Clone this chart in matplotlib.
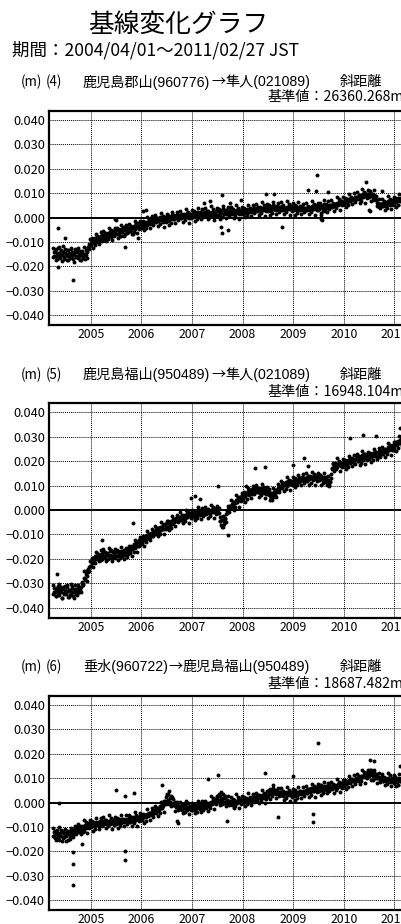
import matplotlib
matplotlib.use("Agg")
import matplotlib.pyplot as plt
import numpy as np
import pandas as pd

plt.rcParams['font.family'] = ['Noto Sans CJK JP', 'DejaVu Sans']
LATIN_CJK = ['Liberation Sans', 'Noto Sans CJK JP']

# ---------------- data ----------------
title = "基線変化グラフ"
period = "期間：2004/04/01～2011/02/27 JST"
unit_label = "(m)"
panel_numbers = ["(4)", "(5)", "(6)"]
from_stations = ["鹿児島郡山(960776)", "鹿児島福山(950489)", "垂水(960722)"]
to_stations = ["隼人(021089)", "隼人(021089)", "鹿児島福山(950489)"]
arrow = "→"
quantity = "斜距離"
base_values = ["基準値：26360.268m", "基準値：16948.104m", "基準値：18687.482m"]

year_ticks = [2005, 2006, 2007, 2008, 2009, 2010, 2011]
year_labels = ["2005", "2006", "2007", "2008", "2009", "2010", "2011"]
y_ticks = [0.040, 0.030, 0.020, 0.010, 0.000, -0.010, -0.020, -0.030, -0.040]
y_labels = ["0.040", "0.030", "0.020", "0.010", "0.000",
            "\u22120.010", "\u22120.020", "\u22120.030", "\u22120.040"]

# two weekly sample sets (361 dates each), values in mm
sample_start_a = "2004-04-01"
sample_start_b = "2004-04-04"
n_samples = 361

series4a_mm = [
    -16.2, -14.1, -15.8, -13.0, -17.1, -15.2, -12.6, -14.7, -16.5, -13.9,
    -15.4, -11.8, -16.9, -14.4, -15.0, -17.6, -13.3, -15.9, -14.8, -12.9,
    -16.3, -15.1, -18.2, -14.0, -15.6, -13.4, -16.8, -14.6, -17.4, -15.3,
    -13.7, -16.0, -14.9, -17.0, -15.5, -14.2, -12.7, -12.3, -10.9,
    -11.2, -9.4, -10.6, -8.7, -10.1, -8.3, -9.9, -7.6, -9.2, -8.0, -9.5, -7.4, -8.6,
    -7.1, -8.8, -6.5, -7.9, -8.4, -6.2, -7.6, -5.8, -8.1, -6.9, -5.6, -7.3, -6.4,
    -5.2, -6.8, -4.7, -6.3, -5.5, -7.4, -4.9, -6.0, -5.3, -3.9, -6.6, -5.0, -4.4,
    -5.8, -4.2, -3.6, -5.4, -4.5, -6.9, -3.3, -4.8, -2.7, -4.0, -3.5, -2.4, -4.1, -3.0,
    -3.4, -2.1, -3.8, -2.6, -1.7, -3.0, -2.2, -1.1, -2.5, -1.6, -0.8, -2.0, -1.3,
    -0.6, -1.9, -1.0, -0.2, -1.5, -0.9, 0.3, -1.2, -0.4, -1.7, -0.5, 0.1, -1.0,
    -0.3, 0.6, -1.1, 0.2, -0.5, 0.9, -0.1, -0.8, 0.5, 0.0, 1.1, -0.4, 0.7,
    1.2, -0.2, 0.8, 0.3, 1.5, 0.1, 0.9, 1.7, 0.4, 1.0, -0.1, 1.3, 0.6,
    1.4, 0.5, 1.9, 0.8, 1.2, 2.3, 0.6, 1.6, 1.0, 2.0, 0.9, 1.8, 1.3,
    2.2, 1.1, 1.7, 2.6, 0.8, 1.9, 1.4, 2.4, 1.2, 2.1, 1.6, 2.8, 1.0,
    2.5, 0.9, 3.1, 1.6, 2.7, 0.4, 3.4, 1.3, 2.2, 3.0, 1.5, 2.6, 1.9,
    2.9, 1.7, 2.4, 3.2, 1.8, 2.5, 2.0, 3.0, 2.2, 1.6, 2.8, 2.3, 3.1,
    2.0, 3.1, 2.6, 1.9, 3.4, 2.7, 2.2, 3.6, 2.9, 2.4, 3.3, 2.8, 3.7,
    3.2, 2.5, 4.0, 3.1, 2.7, 4.3, 3.5, 2.9, 3.8, 4.5, 3.0, 3.6, 4.1,
    3.3, 4.6, 3.9, 2.8, 4.2, 5.1, 3.4, 4.0, 3.1, 4.7, 3.6, 4.4, 3.0,
    4.3, 3.5, 4.9, 3.2, 4.1, 3.7, 2.9, 4.5, 3.8, 4.0, 3.3, 4.6, 3.6,
    4.2, 3.3, 3.9, 4.6, 3.0, 3.7, 4.1, 2.9, 3.6, 4.3, 3.2, 3.8, 3.4,
    2.9, 4.0, 3.5, 4.4, 3.1, 3.8, 4.6, 3.3, 4.2, 3.9, 5.0, 3.6, 4.5,
    3.1, 5.2, 4.0, 1.2, 4.8, 3.7, 5.5, 2.6, 4.4, 5.0, 3.9, 4.7, 5.3,
    4.3, 5.1, 4.8, 5.6, 4.9, 5.4, 6.0, 5.2, 6.3, 5.7, 6.6, 5.9, 6.4,
    6.2, 7.1, 6.6, 5.9, 7.4, 6.9, 7.7, 6.8, 7.3, 8.0, 7.2, 7.8, 8.3,
    7.6, 8.5, 8.0, 8.9, 7.8, 9.3, 8.4, 9.6, 8.7, 10.1, 9.0, 8.6, 9.8,
    9.4, 10.2, 8.9, 9.7, 8.5, 9.1, 8.2, 7.0, 6.1, 5.3, 4.4, 5.6, 4.8,
    5.5, 4.6, 5.9, 5.0, 6.2, 4.9, 5.4, 6.6, 5.8, 5.1, 6.3, 6.9, 6.0,
    6.8, 7.5, 6.3, 7.1, 7.9, 6.6, 7.4, 8.0, 7.2,
]
series4b_mm = [
    -12.6, -15.6, -13.8, -17.3, -14.7, -16.6, -12.1, -15.2, -13.3, -17.8, -14.2, -16.1, -13.0,
    -15.9, -13.5, -17.5, -14.5, -16.8, -12.4, -15.4, -14.0, -17.1, -14.9, -12.8, -16.3, -14.3,
    -12.6, -15.6, -13.8, -17.3, -14.7, -16.6, -12.1, -15.2, -13.3, -16.8, -12.2, -13.1, -9.0,
    -11.2, -8.6, -12.4, -9.2, -11.3, -6.7, -9.5, -7.9, -10.8, -8.4, -6.1, -9.5, -7.3,
    -5.5, -8.4, -6.4, -9.8, -7.0, -8.8, -4.1, -7.1, -5.0, -9.4, -5.6, -7.4, -4.1,
    -6.9, -4.4, -8.4, -5.3, -7.5, -3.0, -6.0, -4.5, -7.5, -5.2, -3.1, -6.5, -4.4,
    -2.6, -5.5, -3.5, -6.9, -4.2, -5.9, -1.3, -4.2, -2.2, -6.5, -2.8, -4.6, -1.3, -4.1,
    -3.9, -1.4, -5.3, -2.1, -4.3, 0.2, -2.7, -1.1, -4.1, -1.8, 0.5, -2.9, -0.8,
    1.0, -2.0, -0.1, -3.6, -0.9, -2.8, 1.8, -1.2, 0.8, -3.7, -0.1, -1.9, 1.3,
    -1.5, 1.0, -3.0, 0.1, -2.1, 2.4, -0.6, 0.9, -2.2, 0.1, 2.3, -1.2, 0.9,
    2.7, -0.3, 1.6, -1.9, 0.8, -1.1, 3.5, 0.5, 2.4, -2.1, 1.6, -0.3, 2.9,
    0.1, 2.6, -1.4, 1.7, -0.6, 3.8, 0.9, 2.3, -0.8, 1.5, 3.6, 0.2, 2.2,
    3.9, 1.0, 2.8, -0.7, 1.9, 0.1, 4.6, 1.5, 3.4, -1.1, 2.6, 0.7, 3.8,
    0.9, 3.4, -0.7, 2.4, 0.1, 4.6, 1.6, 3.0, -0.1, 2.2, 4.3, 0.8, 2.8,
    4.5, 1.6, 3.4, -0.1, 2.5, 0.7, 5.2, 2.1, 4.0, -0.5, 3.2, 1.3, 4.4,
    1.6, 4.1, 0.1, 3.2, 0.9, 5.3, 2.4, 3.8, 0.8, 3.0, 5.1, 1.7, 3.7,
    5.4, 2.5, 4.3, 0.9, 3.5, 1.7, 6.2, 3.2, 5.1, 0.7, 4.3, 2.5, 5.6,
    2.8, 5.2, 1.2, 4.2, 1.9, 6.3, 3.3, 4.7, 1.6, 3.8, 5.9, 2.4, 4.5,
    6.2, 3.2, 5.0, 1.5, 4.1, 2.2, 6.7, 3.6, 5.5, 1.0, 4.6, 2.7, 5.8,
    2.9, 5.3, 1.2, 4.2, 1.9, 6.2, 3.2, 4.6, 1.4, 3.6, 5.7, 2.1, 4.1,
    5.8, 2.9, 4.7, 1.3, 3.9, 2.1, 6.7, 3.6, 5.6, 1.1, 4.8, 3.0, 6.1,
    3.3, 5.8, 1.8, 4.8, 2.6, 7.0, 4.0, 5.5, 2.4, 4.6, 6.8, 3.3, 5.3,
    7.0, 4.2, 6.1, 2.7, 5.5, 3.7, 8.4, 5.4, 7.5, 3.1, 6.8, 5.1, 8.3,
    5.6, 8.1, 4.3, 7.4, 5.2, 9.7, 6.8, 8.4, 5.4, 7.7, 9.9, 6.5, 8.6,
    10.3, 7.4, 9.3, 6.0, 8.7, 6.9, 11.5, 8.5, 10.5, 6.1, 9.8, 8.0, 11.2,
    8.4, 10.8, 6.7, 9.6, 7.2, 11.4, 8.2, 8.8, 4.8, 6.1, 7.5, 3.7, 5.7,
    7.6, 4.7, 6.6, 3.2, 5.9, 4.1, 8.7, 5.7, 7.7, 3.3, 7.0, 5.2, 8.4,
    5.6, 8.1, 4.2, 7.3, 5.1, 9.6, 6.6, 8.1, 5.1,
]

series5a_mm = [
    -34.2, -31.8, -33.5, -35.1, -32.4, -30.9, -33.8, -34.9, -32.0, -33.3,
    -36.0, -31.5, -33.9, -32.6, -34.5, -30.7, -33.1, -35.4, -32.8, -34.0,
    -31.2, -33.6, -35.8, -32.2, -33.0, -34.7, -31.0, -33.4, -32.5,
    -31.6, -29.4, -30.3, -27.9, -28.6, -26.2, -27.0, -24.8, -25.5, -23.1,
    -22.8, -20.9, -21.7, -19.6, -20.8, -18.7, -20.1, -19.3, -17.8, -19.9, -18.4, -20.3, -17.6,
    -19.1, -17.2, -18.8, -20.0, -17.5, -18.3, -19.6, -16.9, -18.6, -19.4, -17.3, -18.1, -19.8,
    -17.0, -18.9, -16.6, -18.2, -19.3, -17.4, -16.8, -18.7, -17.9, -16.2, -18.4, -17.1, -16.5,
    -17.8, -15.9, -16.7, -14.8, -16.1, -15.2, -13.7, -15.5, -14.1, -13.0, -14.6, -12.4, -13.5, -11.9,
    -13.1, -11.6, -12.4, -10.8, -12.0, -10.3, -11.5, -9.7, -11.0, -9.2, -10.5, -8.8, -9.9,
    -8.4, -9.6, -7.9, -9.0, -7.4, -8.6, -6.8, -8.1, -7.2, -6.3, -7.7, -5.9, -6.9,
    -5.5, -6.9, -4.8, -6.0, -4.3, -5.6, -3.7, -5.1, -4.0, -3.2, -4.6, -2.8, -3.9,
    -3.0, -4.1, -2.5, -3.5, -1.9, -3.2, -2.7, -1.4, -2.9, -2.2, -1.1, -2.6, -1.7,
    -1.2, -2.4, -0.9, -1.9, -2.8, -1.0, -1.7, -0.5, -2.1, -1.4, -0.3, -1.8, -0.8,
    -1.5, -0.2, -1.1, 0.4, -0.7, -1.6, 0.1, -0.5, 0.8, -1.0, 0.3, -0.4, 0.6,
    -0.2, -1.4, -2.8, -4.6, -6.2, -3.9, -7.1, -5.0, -3.3, -1.8, -0.6, 0.5, 1.2,
    1.8, 1.0, 2.6, 2.1, 3.3, 2.8, 3.9, 3.4, 4.6, 4.0, 5.2, 4.5, 5.6,
    5.0, 6.3, 5.8, 7.1, 6.4, 7.6, 6.9, 8.2, 7.3, 6.7, 8.5, 7.7, 8.8,
    7.2, 8.6, 9.1, 7.5, 8.0, 6.8, 8.9, 7.4, 8.3, 6.9, 8.7, 7.6, 7.0,
    6.5, 7.9, 5.6, 4.9, 6.8, 5.2, 7.3, 6.0, 8.1, 7.4, 9.0, 8.3, 9.5,
    9.9, 10.6, 9.4, 11.1, 10.2, 10.8, 11.5, 10.0, 11.8, 10.7, 11.3, 12.0, 10.9,
    11.0, 12.2, 11.6, 12.8, 11.3, 12.4, 13.1, 11.9, 12.6, 13.4, 12.1, 13.0, 12.3,
    13.2, 12.0, 13.7, 12.5, 14.0, 12.9, 13.5, 12.2, 13.8, 12.7, 14.3, 13.1, 12.6,
    13.6, 12.4, 14.1, 12.8, 13.3, 11.9, 12.7, 13.5, 11.6, 12.3, 10.8, 10.2, 11.4,
    13.0, 17.2, 18.6, 17.5, 19.1, 18.0, 17.4, 18.9, 19.6, 18.3, 17.8, 19.3, 18.7,
    19.5, 18.4, 20.1, 19.0, 18.7, 20.6, 19.3, 20.9, 19.8, 21.3, 20.0, 19.4, 21.0,
    20.7, 21.6, 20.2, 22.0, 20.9, 21.4, 22.5, 20.6, 21.9, 22.8, 21.2, 22.3, 21.5,
    22.1, 23.0, 21.6, 22.7, 23.4, 22.0, 23.8, 22.5, 21.9, 23.3, 24.1, 22.8, 23.6,
    24.0, 22.9, 24.6, 23.7, 25.1, 24.3, 23.5, 25.6, 24.8, 26.1, 25.2, 24.5, 26.4,
    25.7, 26.9, 27.6, 26.4, 28.0, 27.2, 28.7, 27.9, 29.1,
]
series5b_mm = [
    -30.6, -33.6, -31.8, -35.3, -32.7, -34.6, -30.1, -33.2, -31.3, -35.8, -32.2, -34.1, -31.0,
    -33.9, -31.5, -35.5, -32.5, -34.8, -30.4, -33.4, -32.0, -35.1, -32.9, -30.8, -34.3, -32.3,
    -30.6, -33.6, -31.8, -33.3, -29.7, -30.6, -25.1, -27.7, -24.8, -28.8, -24.2, -25.1, -21.0,
    -22.9, -19.8, -23.3, -19.8, -21.7, -17.0, -19.7, -18.1, -21.0, -18.7, -16.5, -19.9, -17.8,
    -16.1, -19.1, -17.2, -20.7, -18.1, -19.9, -15.4, -18.4, -16.5, -21.0, -17.3, -19.2, -16.0,
    -18.9, -16.5, -20.5, -17.4, -19.7, -15.3, -18.2, -16.8, -19.9, -17.6, -15.5, -19.0, -16.9,
    -14.9, -17.6, -15.5, -18.7, -15.7, -17.3, -12.4, -15.2, -12.9, -17.1, -13.1, -14.6, -11.2, -13.7,
    -13.4, -10.7, -14.5, -11.2, -13.2, -8.5, -11.3, -9.6, -12.4, -9.9, -7.6, -10.8, -8.5,
    -6.6, -9.4, -7.4, -10.7, -7.9, -9.6, -4.9, -7.8, -5.7, -10.0, -6.1, -7.8, -4.5,
    -7.1, -4.5, -8.3, -5.1, -7.2, -2.5, -5.3, -3.7, -6.6, -4.2, -1.9, -5.1, -2.9,
    -1.0, -3.9, -2.0, -5.4, -2.6, -4.4, 0.2, -2.8, -0.8, -5.2, -1.4, -3.2, 0.0,
    -2.7, -0.3, -4.2, -1.2, -3.4, 1.1, -1.9, -0.5, -3.5, -1.3, 0.9, -2.6, -0.5,
    1.3, -1.7, 0.2, -3.2, -0.6, -2.4, 2.2, -0.9, 1.1, -3.3, 0.4, -1.5, 1.7,
    -1.2, 0.7, -4.3, -3.0, -6.8, -2.6, -5.7, -3.5, -5.1, -1.4, 1.7, -1.0, 1.7,
    3.9, 1.2, 3.3, 0.1, 3.0, 1.4, 6.2, 3.4, 5.5, 1.3, 5.2, 3.6, 7.0,
    4.6, 7.2, 3.4, 6.6, 4.5, 9.1, 6.3, 7.9, 5.0, 7.4, 9.7, 6.4, 8.6,
    10.3, 7.3, 9.1, 5.5, 8.1, 6.2, 10.6, 7.5, 9.4, 4.8, 8.4, 6.5, 9.5,
    6.6, 8.7, 4.1, 6.5, 4.2, 8.8, 6.2, 8.0, 5.4, 8.1, 10.6, 7.3, 9.5,
    11.9, 9.1, 11.0, 7.7, 10.4, 8.7, 13.3, 10.4, 12.4, 8.1, 11.8, 10.1, 13.3,
    10.6, 13.1, 9.2, 12.3, 10.1, 14.5, 11.6, 13.1, 10.1, 12.4, 14.6, 11.1, 13.2,
    15.0, 12.0, 13.9, 10.4, 13.0, 11.2, 15.7, 12.6, 14.6, 10.1, 13.7, 11.9, 15.0,
    12.1, 14.5, 10.4, 13.4, 11.0, 15.3, 12.2, 13.5, 10.2, 12.1, 13.7, 9.7, 11.9,
    14.9, 16.9, 19.2, 15.8, 18.5, 16.7, 21.3, 18.2, 20.2, 15.8, 19.4, 17.6, 20.8,
    18.1, 20.6, 16.7, 19.8, 17.7, 22.2, 19.3, 20.8, 17.8, 20.1, 22.3, 18.9, 21.0,
    22.8, 19.9, 21.8, 18.4, 21.1, 19.4, 24.0, 21.0, 23.0, 18.6, 22.3, 20.5, 23.7,
    20.9, 23.4, 19.6, 22.7, 20.5, 25.0, 22.1, 23.6, 20.7, 23.0, 25.2, 21.8, 23.9,
    25.7, 22.9, 24.9, 21.6, 24.4, 22.8, 27.5, 24.6, 26.7, 22.4, 26.2, 24.5, 27.8,
    25.1, 27.8, 24.1, 27.4, 25.4, 30.1, 27.4, 29.1, 26.3,
]

series6a_mm = [
    -13.8, -12.1, -14.6, -12.9, -11.4, -14.0, -13.3, -15.2, -12.5, -13.9,
    -11.8, -14.4, -12.7, -13.5, -15.6, -12.2, -13.1, -11.6, -14.3,
    -12.8, -11.1, -13.4, -11.9, -10.6, -12.4, -11.2, -9.8, -12.0, -10.9,
    -11.5, -9.6, -10.3, -11.7, -9.1, -10.5, -8.9, -10.0, -9.4, -8.6,
    -9.8, -8.5, -9.3, -8.0, -9.6, -8.8, -7.9, -9.1, -8.3, -9.5, -7.7, -8.6, -8.2,
    -9.0, -7.6, -8.4, -7.3, -8.9, -8.1, -7.5, -8.7, -7.2, -8.3, -7.8, -9.2, -7.4,
    -8.0, -7.1, -8.5, -6.8, -7.9, -7.3, -8.6, -6.9, -7.6, -8.2, -7.0, -6.6, -7.7,
    -7.2, -6.5, -8.0, -6.9, -7.5, -6.1, -7.0, -6.4, -7.3, -5.9, -6.8, -6.2, -5.7, -6.6,
    -6.6, -5.4, -6.0, -5.1, -5.8, -4.6, -5.3, -4.2, -5.0, -4.4, -3.6, -4.7, -3.9,
    -3.2, -4.0, -2.7, -3.5, -2.1, -2.9, -1.6, -2.4, -0.8, -1.5, 0.6, -0.3, 2.2,
    3.4, 1.0, 4.8, 0.3, 2.5, -0.6, 1.4, -1.2, 0.2, -1.9, -0.9, -2.3, -1.4,
    -2.6, -1.5, -2.9, -1.8, -2.4, -1.2, -2.7, -2.0, -3.1, -1.7, -2.3, -2.8, -1.9,
    -2.5, -1.4, -2.2, -3.0, -1.6, -2.4, -1.1, -2.0, -2.8, -1.5, -1.9, -1.0, -2.3,
    -1.3, -2.1, -0.8, -1.6, -0.4, -1.2, 0.2, -0.7, 0.9, -0.1, 1.6, 0.4, 2.3,
    1.2, 3.5, 0.6, 2.6, 4.2, 0.9, 1.9, -0.3, 2.8, 0.2, 1.1, -0.8, 0.5,
    -0.6, 0.8, -1.1, 0.3, 1.2, -0.4, 0.6, -0.2, 1.0, 0.1, 1.5, 0.4, 0.9,
    0.4, 1.3, 0.7, 1.8, 0.9, 1.5, 0.3, 1.9, 1.1, 2.2, 1.4, 0.8, 1.7,
    2.1, 1.2, 2.5, 1.7, 2.9, 2.0, 1.5, 3.0, 2.4, 1.9, 3.3, 2.6, 2.2,
    3.2, 4.1, 5.4, 3.6, 4.8, 5.9, 3.9, 4.6, 3.3, 5.1, 4.0, 3.5, 4.4,
    3.0, 4.2, 3.5, 2.8, 4.0, 3.3, 4.5, 2.9, 3.7, 3.1, 4.1, 3.4, 2.7,
    3.9, 3.1, 4.3, 3.6, 2.9, 4.5, 3.8, 4.9, 3.4, 4.1, 4.7, 3.7, 4.4,
    5.0, 4.0, 4.6, 5.4, 4.3, 5.8, 4.8, 5.2, 6.1, 4.7, 5.5, 6.3, 5.1,
    6.5, 4.6, 5.9, 7.2, 5.3, 4.4, 6.8, 5.6, 6.2, 4.9, 6.0, 7.0, 5.7,
    6.4, 5.8, 6.9, 6.2, 7.1, 6.6, 5.9, 7.4, 6.8, 7.7, 6.5, 7.2, 7.9,
    7.3, 8.1, 7.8, 8.6, 7.9, 8.4, 9.1, 8.3, 8.8, 9.5, 8.7, 9.3, 8.9,
    9.6, 10.2, 9.2, 10.5, 9.9, 11.0, 10.3, 10.8, 11.6, 10.6, 12.0, 11.3, 11.8,
    12.4, 11.1, 13.2, 11.9, 10.8, 12.6, 11.0, 10.2, 11.5, 9.9, 10.6, 9.4, 10.1,
    9.3, 10.4, 8.8, 9.7, 10.0, 8.9, 9.5, 10.2, 9.1, 8.6, 9.8, 9.0, 9.4,
    8.7, 9.6, 9.1, 8.5, 9.9, 9.3, 8.8, 9.5, 9.2,
]
series6b_mm = [
    -10.6, -13.6, -11.8, -15.3, -12.7, -14.6, -10.1, -13.2, -11.3, -15.8, -12.2, -14.1, -11.0,
    -13.9, -11.5, -15.5, -12.5, -14.8, -10.4, -12.7, -11.2, -14.1, -11.7, -9.5, -12.8, -10.6,
    -8.8, -11.6, -9.7, -13.0, -10.2, -12.0, -7.3, -10.3, -8.2, -12.5, -8.8, -10.5, -7.3,
    -10.1, -7.7, -11.6, -8.5, -10.8, -6.3, -9.3, -7.8, -10.8, -8.6, -6.4, -9.8, -7.7,
    -6.0, -9.0, -7.1, -10.6, -7.9, -9.8, -5.2, -8.3, -6.4, -10.8, -7.2, -9.0, -5.9,
    -8.7, -6.3, -10.3, -7.2, -9.5, -5.1, -8.0, -6.6, -9.7, -7.4, -5.3, -8.8, -6.8,
    -5.0, -7.9, -6.0, -9.5, -6.8, -8.6, -4.0, -7.0, -5.0, -9.5, -5.8, -7.6, -4.4, -7.2,
    -7.1, -4.6, -8.4, -5.2, -7.4, -2.8, -5.7, -4.1, -7.0, -4.7, -2.4, -5.8, -3.6,
    -1.5, -4.3, -2.3, -5.6, -2.8, -4.4, 0.4, -2.3, 0.1, -3.8, 0.5, -0.6, 3.0,
    0.6, 3.5, -0.7, 1.7, -1.3, 2.4, -1.2, -0.2, -3.6, -1.6, 0.4, -3.2, -1.3,
    0.3, -2.7, -0.9, -4.4, -1.8, -3.7, 0.8, -2.3, -0.4, -4.9, -1.3, -3.2, -0.1,
    -2.9, -0.5, -4.5, -1.5, -3.7, 0.7, -2.3, -0.9, -3.9, -1.7, 0.5, -3.1, -1.0,
    0.8, -2.0, 0.0, -3.3, -0.5, -2.2, 2.5, -0.4, 1.7, -2.6, 1.2, -0.5, 2.8,
    0.6, 2.9, -1.2, 1.7, -0.8, 3.5, 0.4, 1.7, -1.6, 0.5, 2.5, -1.2, 0.7,
    2.4, -0.6, 1.3, -2.2, 0.5, -1.3, 3.3, 0.2, 2.2, -2.3, 1.4, -0.5, 2.7,
    -0.1, 2.4, -1.6, 1.5, -0.8, 3.7, 0.7, 2.2, -0.9, 1.4, 3.6, 0.1, 2.2,
    4.0, 1.1, 3.0, -0.4, 2.3, 0.5, 5.1, 2.1, 4.1, -0.3, 3.4, 1.6, 4.8,
    2.6, 5.3, 1.6, 4.8, 2.7, 7.1, 4.0, 5.2, 1.9, 4.0, 6.0, 2.5, 4.4,
    5.9, 2.9, 4.7, 1.2, 3.8, 1.9, 6.4, 3.3, 5.2, 0.7, 4.3, 2.4, 5.5,
    2.6, 5.1, 1.1, 4.2, 1.9, 6.4, 3.4, 4.9, 1.9, 4.1, 6.3, 2.8, 4.9,
    6.7, 3.8, 5.7, 2.3, 5.0, 3.2, 7.8, 4.8, 6.8, 2.4, 6.1, 4.3, 7.5,
    4.7, 7.1, 3.2, 6.2, 3.9, 8.4, 5.4, 6.8, 3.8, 6.0, 8.1, 4.7, 6.7,
    8.5, 5.6, 7.5, 4.1, 6.8, 5.0, 9.6, 6.6, 8.6, 4.2, 7.9, 6.1, 9.3,
    6.7, 9.3, 5.4, 8.5, 6.3, 10.9, 8.0, 9.5, 6.6, 8.9, 11.1, 7.8, 9.9,
    11.8, 9.0, 11.0, 7.6, 10.4, 8.7, 13.4, 10.4, 12.5, 8.2, 12.0, 10.2, 13.5,
    10.9, 13.4, 9.3, 12.0, 9.4, 13.5, 10.2, 11.4, 8.1, 10.1, 12.1, 8.5, 10.5,
    11.8, 8.8, 10.6, 7.1, 9.7, 7.8, 12.3, 9.2, 11.1, 6.6, 10.2, 8.3, 11.4,
    8.2, 10.6, 6.6, 9.6, 7.3, 11.7, 8.7, 10.1, 7.0,
]

# isolated points (date, mm)
outlier4_dates = ["2004-05-12", "2004-05-12", "2004-07-01", "2004-08-29", "2005-06-25",
                  "2005-07-01", "2005-09-06", "2005-12-06", "2006-01-16", "2006-02-07",
                  "2007-03-26", "2007-05-12", "2007-07-28", "2007-08-04", "2007-08-04",
                  "2007-09-21", "2007-10-01", "2007-12-24", "2008-06-18", "2008-08-19",
                  "2008-10-16", "2009-04-20", "2009-06-13", "2009-06-21", "2009-07-23",
                  "2009-07-30", "2009-09-06", "2010-06-14", "2010-07-02", "2010-07-09",
                  "2010-10-05"]
outlier4_mm = [-4.4, -20.5, -8.5, -25.6, -0.7,
               -1.0, -11.9, -8.5, 2.5, 2.9,
               5.9, 6.8, -3.7, -6.4, 9.3,
               -5.1, 5.9, 7.3, 9.7, 9.7,
               -3.7, 11.3, 11.0, 17.5, -0.7,
               -1.0, 10.4, 14.4, 3.1, 2.5,
               11.0]

outlier5_dates = ["2004-04-30", "2005-03-22", "2005-11-03", "2006-12-28", "2007-01-20",
                  "2007-03-01", "2007-07-09", "2007-09-21", "2008-01-25", "2008-04-02",
                  "2008-06-14", "2008-12-28", "2009-03-22", "2009-04-15", "2010-02-15",
                  "2010-05-22", "2010-08-20", "2011-02-10"]
outlier5_mm = [-26.1, -12.2, -5.3, 5.1, 5.8,
               4.4, 10.0, -10.1, 10.0, 17.2,
               17.6, 18.5, 21.1, 17.8, 29.4,
               30.6, 30.1, 33.6]

outlier6_dates = ["2004-05-15", "2004-08-28", "2004-08-28", "2004-08-29", "2004-10-27",
                  "2005-07-06", "2005-09-05", "2005-09-05", "2005-09-06", "2005-11-10",
                  "2006-05-27", "2006-09-12", "2006-09-20", "2007-04-28", "2007-07-09",
                  "2007-09-09", "2008-06-14", "2008-09-17", "2009-01-02", "2009-05-26",
                  "2009-05-26", "2009-07-01", "2010-07-08", "2010-08-07", "2011-02-10"]
outlier6_mm = [-0.4, -20.1, -25.3, -34.0, -17.1,
               5.1, 2.8, -19.9, -23.6, 3.8,
               7.2, -7.6, -8.3, 9.7, 11.1,
               -7.6, 12.2, -6.0, 10.8, -4.9,
               -7.9, 24.3, 17.4, 17.1, 15.0]


def decimal_year(dates):
    d = pd.DatetimeIndex(dates)
    days = np.where(d.is_leap_year, 366.0, 365.0)
    return np.asarray(d.year + (d.dayofyear - 1) / days, dtype=float)


xa = decimal_year(pd.date_range(sample_start_a, periods=n_samples, freq="7D"))
xb = decimal_year(pd.date_range(sample_start_b, periods=n_samples, freq="7D"))

panels = [
    (series4a_mm, series4b_mm, outlier4_dates, outlier4_mm),
    (series5a_mm, series5b_mm, outlier5_dates, outlier5_mm),
    (series6a_mm, series6b_mm, outlier6_dates, outlier6_mm),
]

# ---------------- layout ----------------
W, H = 402, 924
fig = plt.figure(figsize=(W / 100, H / 100), dpi=100)
renderer = fig.canvas.get_renderer()

def fx(px):
    return px / W

def fy(py):
    return 1 - py / H

fig.text(fx(178), fy(25), title, ha="center", va="center", fontsize=18.5)
fig.text(fx(12), fy(50), period, ha="left", va="center", fontsize=12.6)

axes_px = [(111, 325), (403, 618), (696, 910)]
sub_y = [82, 375, 667]
base_y = [97.5, 392, 684]
left_px = 49
right_px = 407
sub_fs = 10.2

for k, (va_, vb_, odates, omm) in enumerate(panels):
    top, bot = axes_px[k]
    ax = fig.add_axes([fx(left_px), fy(bot), (right_px - left_px) / W, (bot - top) / H])
    ax.set_xlim(2004.176, 2011.25)
    ax.set_ylim(-0.0441, 0.0437)
    for xs, vals in ((xa, va_), (xb, vb_)):
        ax.scatter(xs[:len(vals)], np.array(vals) / 1000.0, s=8, c="black",
                   linewidths=0, zorder=3)
    ax.scatter(decimal_year(odates), np.array(omm) / 1000.0, s=8, c="black",
               linewidths=0, zorder=3)
    ax.axhline(0, color="black", lw=1.4, zorder=2)
    ax.set_xticks(year_ticks)
    ax.set_xticklabels(year_labels)
    ax.set_yticks(y_ticks)
    ax.set_yticklabels(y_labels)
    ax.tick_params(axis="both", length=0, colors="black")
    ax.tick_params(axis="x", pad=2.5, labelsize=8.8)
    ax.tick_params(axis="y", pad=3, labelsize=9.2)
    ax.grid(True, color="black", lw=0.7, linestyle=(0, (1, 1)), zorder=1)
    for side in ["left", "top", "bottom"]:
        ax.spines[side].set_linewidth(1.6)
        ax.spines[side].set_color("black")
    ax.spines["right"].set_visible(False)
    ax.set_facecolor("white")

    yy = fy(sub_y[k])
    fig.text(fx(31.5), yy, unit_label, ha="center", va="center", fontsize=9.6)
    fig.text(fx(54), yy, panel_numbers[k], ha="center", va="center", fontsize=9.6)
    # station pair, drawn as a chain of pieces
    t1 = fig.text(fx(83), yy, from_stations[k], ha="left", va="center",
                  fontsize=sub_fs, family=LATIN_CJK)
    x1 = t1.get_window_extent(renderer).x1 + 1
    t2 = fig.text(x1 / W, yy, arrow, ha="left", va="center", fontsize=sub_fs)
    x2 = t2.get_window_extent(renderer).x1
    fig.text(x2 / W, yy, to_stations[k], ha="left", va="center",
             fontsize=sub_fs, family=LATIN_CJK)
    fig.text(fx(340), yy, quantity, ha="left", va="center", fontsize=sub_fs)
    fig.text(fx(404), fy(base_y[k]), base_values[k], ha="right", va="center",
             fontsize=sub_fs)

fig.savefig("out.png", dpi=100, facecolor="white")
